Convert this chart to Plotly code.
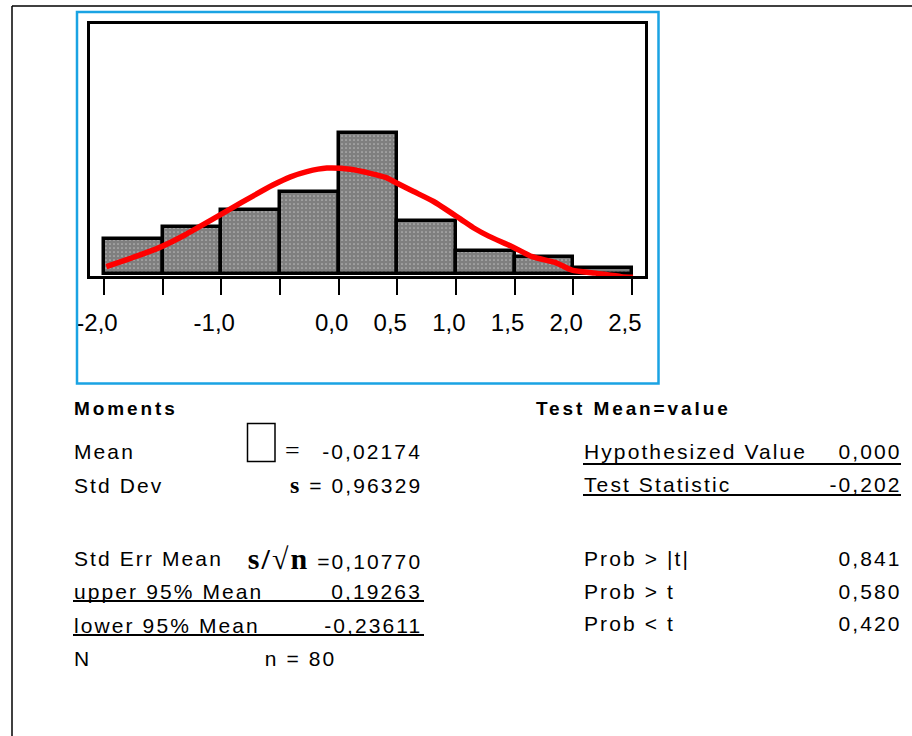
import plotly.graph_objects as go

# ---------------- data ----------------
bin_left = [-2.0, -1.5, -1.0, -0.5, 0.0, 0.5, 1.0, 1.5, 2.0]
bin_width = 0.5
counts = [6, 8, 11, 14, 24, 9, 4, 3, 1]

curve_x = [-1.98, -1.65, -1.50, -1.31, -1.08, -0.83, -0.56, -0.41, -0.27, -0.10,
           0.10, 0.27, 0.40, 0.50, 0.64, 0.81, 1.04, 1.16, 1.28, 1.48,
           1.65, 1.85, 1.99, 2.19, 2.41, 2.51]
curve_y = [1.3, 3.6, 4.8, 6.7, 9.3, 12.2, 15.2, 16.6, 17.5, 18.1,
           17.9, 17.2, 16.5, 15.5, 14.1, 12.4, 9.4, 7.8, 6.5, 4.7,
           3.0, 2.0, 0.7, 0.2, -0.4, -0.5]

tick_vals = [-2.0, -1.5, -1.0, -0.5, 0.0, 0.5, 1.0, 1.5, 2.0, 2.5]
tick_text = ["-2,0", "", "-1,0", "", "0,0", "0,5", "1,0", "1,5", "2,0", "2,5"]

moments_title = "Moments"
moment_labels = ["Mean", "Std Dev", "Std Err Mean", "upper 95% Mean", "lower 95% Mean", "N"]
moment_values = ["-0,02174", "0,96329", "0,10770", "0,19263", "-0,23611", "80"]

test_title = "Test Mean=value"
test_labels = ["Hypothesized Value", "Test Statistic", "Prob > |t|", "Prob > t", "Prob < t"]
test_values = ["0,000", "-0,202", "0,841", "0,580", "0,420"]

# ---------------- geometry helpers (pixel -> paper) ----------------
W, H = 912, 736
L, R, T, B = 90, 645, 24, 276


def px(x):
    return (x - L) / (R - L)


def py(y):
    return (B - y) / (B - T)


SANS = "Liberation Sans, Arial, sans-serif"
SERIF = "Liberation Serif, Times New Roman, serif"
FS = 21

annotations = []


def txt(s, x, y, anchor="left", size=FS, family=SANS):
    annotations.append(dict(
        text=s, x=px(x), y=py(y), xref="paper", yref="paper",
        xanchor=anchor, yanchor="middle", align=anchor, showarrow=False, borderpad=0,
        font=dict(family=family, size=size, color="black")))


shapes = []


def line(x0, y0, x1, y1, color="black", width=1.5):
    shapes.append(dict(type="line", xref="paper", yref="paper",
                       x0=px(x0), y0=py(y0), x1=px(x1), y1=py(y1),
                       line=dict(color=color, width=width), layer="above"))


def rect(x0, y0, x1, y1, color="black", width=1.5):
    shapes.append(dict(type="rect", xref="paper", yref="paper",
                       x0=px(x0), y0=py(y0), x1=px(x1), y1=py(y1),
                       line=dict(color=color, width=width), fillcolor="rgba(0,0,0,0)",
                       layer="above"))


# ---------------- figure ----------------
fig = go.Figure()

fig.add_trace(go.Bar(
    x=[b + bin_width / 2 for b in bin_left], y=counts, width=bin_width,
    marker=dict(color="white",
                line=dict(color="black", width=3.5),
                pattern=dict(shape=".", fgcolor="black", bgcolor="white",
                             size=4, solidity=0.85)),
    hoverinfo="skip"))

fig.add_trace(go.Scatter(
    x=curve_x, y=curve_y, mode="lines",
    line=dict(color="#ff0000", width=5.5, shape="spline", smoothing=0.6),
    hoverinfo="skip"))

# outer page frame and blue panel
line(12, 6, 912, 6, width=1.5)
line(12, 6, 12, 736, width=1.5)
rect(77, 12, 658.5, 383.5, color="#1aa3e3", width=2.5)

# Moments block
txt("<b>" + moments_title + "</b>", 73, 408, size=19)
rows_y = [451, 485, 558, 591, 625, 658]
prefixes = ["",
            "<span style='font-family:Liberation Serif;font-size:24px'><b>s</b></span> = ",
            "<span style='font-family:Liberation Serif;font-size:30px'><b>s/√n</b></span> =",
            "", "", ""]
for lab, val, yy, pre in zip(moment_labels, moment_values, rows_y, prefixes):
    txt(lab, 73, yy)
    if lab == "N":
        txt("n = " + val, 300, yy, anchor="center")
    else:
        txt(pre + val, 422.5, yy, anchor="right")
# placeholder box and equals sign for the mean symbol
rect(247.5, 423.5, 275, 461.5, width=1.5)
txt("=", 293, 450, anchor="center", size=26, family=SERIF)
# underlines
line(73, 601, 424, 601, width=2)
line(73, 635, 424, 635, width=2)

# Test block
txt("<b>" + test_title + "</b>", 535, 408, size=19)
test_y = [451, 484, 558, 591, 623]
for lab, val, yy in zip(test_labels, test_values, test_y):
    txt(lab, 583, yy)
    txt(val, 902.5, yy, anchor="right")
line(583, 464, 901, 464, width=2)
line(583, 495, 901, 495, width=2)

fig.update_layout(
    width=W, height=H,
    margin=dict(l=L, r=W - R, t=T, b=H - B, pad=0),
    paper_bgcolor="white", plot_bgcolor="white",
    showlegend=False, bargap=0,
    annotations=annotations, shapes=shapes,
    xaxis=dict(range=[-2.119, 2.612], tickvals=tick_vals, ticktext=tick_text,
               ticks="outside", ticklen=16, tickwidth=2, tickcolor="black",
               showline=True, mirror=True, linecolor="black", linewidth=2.5,
               showgrid=False, zeroline=False, ticklabelshift=-7,
               ticklabelstandoff=7,
               tickfont=dict(family=SANS, size=24, color="black")),
    yaxis=dict(range=[-0.29, 42.64], showticklabels=False, ticks="",
               showline=True, mirror=True, linecolor="black", linewidth=2.5,
               showgrid=False, zeroline=False),
)

post = """
(function(){
  function fix(){
    document.body.style.margin = '0';
    document.querySelectorAll('.annotation-text').forEach(function(t){
      var s = t.textContent;
      var ls = (s.indexOf('Moments') >= 0 || s.indexOf('Test Mean') >= 0) ? '2.9px' : '2.1px';
      t.setAttribute('letter-spacing', ls);
    });
  }
  fix();
  var gd = document.getElementById('{plot_id}');
  if (gd && gd.on) { gd.on('plotly_afterplot', fix); }
})();
"""

fig.write_html("out.html", post_script=post, config={"displayModeBar": False})
